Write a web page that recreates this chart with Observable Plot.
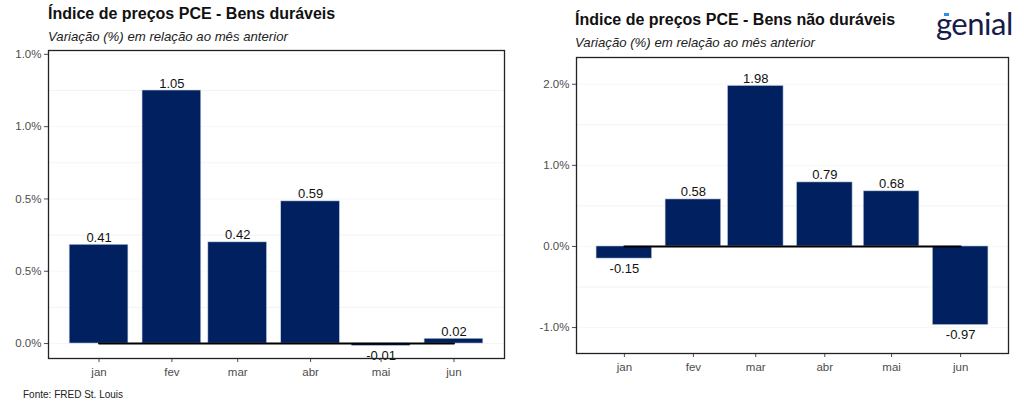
<!DOCTYPE html>
<html>
<head>
<meta charset="utf-8">
<script src="https://cdn.jsdelivr.net/npm/d3@7"></script>
<script src="https://cdn.jsdelivr.net/npm/@observablehq/plot@0.6"></script>
<style>
  body { margin: 0; background: #fff; font-family: "Liberation Sans", Arial, sans-serif; }
  #wrap { position: relative; width: 1024px; height: 410px; overflow: hidden; background: #fff; }
  .title { position: absolute; font-weight: bold; font-size: 16px; color: #111; white-space: nowrap; }
  .sub { position: absolute; font-style: italic; font-size: 13.2px; color: #222; white-space: nowrap; }
  .chart { position: absolute; top: 40px; }
  #logo { position: absolute; left: 936px; top: 4px; font-family: "Lato", sans-serif; font-size: 31px; color: #161b4a; letter-spacing: -0.5px; }
  #logo .acc { position: absolute; left: 8px; top: 9px; width: 5px; height: 3px; background: #2f8fe0; }
  #src { position: absolute; left: 23px; top: 389px; font-size: 10px; color: #222; }
</style>
</head>
<body>
<div id="wrap">
  <div class="title" style="left:48px; top:5px;">Índice de preços PCE - Bens duráveis</div>
  <div class="sub" style="left:48px; top:29px;">Variação (%) em relação ao mês anterior</div>
  <div class="title" style="left:575px; top:11px;">Índice de preços PCE - Bens não duráveis</div>
  <div class="sub" style="left:575px; top:35px;">Variação (%) em relação ao mês anterior</div>
  <div id="logo">genial<span class="acc"></span></div>
  <div id="left" class="chart" style="left:0px;"></div>
  <div id="right" class="chart" style="left:512px;"></div>
  <div id="src">Fonte: FRED St. Louis</div>
</div>
<script>
// ---- data ----
const months = ["2023-01-01", "2023-02-01", "2023-03-01", "2023-04-01", "2023-05-01", "2023-06-01"];
const monthLabels = ["jan", "fev", "mar", "abr", "mai", "jun"];
const duraveis = [0.41, 1.05, 0.42, 0.59, -0.01, 0.02];
const naoDuraveis = [-0.15, 0.58, 1.98, 0.79, 0.68, -0.97];
const leftTicks = [0, 0.3, 0.6, 0.9, 1.2];
const leftTickLabels = ["0.0%", "0.5%", "0.5%", "1.0%", "1.0%"];
const leftGrid = [0.15, 0.45, 0.75, 1.05];
const rightTicks = [-1, 0, 1, 2];
const rightTickLabels = ["-1.0%", "0.0%", "1.0%", "2.0%"];
const rightGrid = [-0.5, 0.5, 1.5];

const dates = months.map(s => new Date(s + "T00:00:00Z"));
const halfBar = 12.5 * 24 * 3600 * 1000;
const pad = 21.5 * 24 * 3600 * 1000;
const fmt = v => d3.format(".2f")(v).replace("\u2212", "-");
const monthFmt = d => monthLabels[dates.findIndex(x => +x === +d)];

function build(values, ticks, tickLabels, grid, yDomain, margins) {
  const rows = dates.map((d, i) => ({date: d, value: values[i], x1: new Date(+d - halfBar), x2: new Date(+d + halfBar)}));
  const labelFor = v => tickLabels[ticks.indexOf(v)];
  return Plot.plot({
    width: 512,
    height: 345,
    ...margins,
    style: {fontFamily: "Liberation Sans, Arial, sans-serif", fontSize: "11.5px", color: "#4d4d4d", background: "transparent"},
    x: {type: "utc", domain: [new Date(+dates[0] - pad), new Date(+dates[dates.length - 1] + pad)], ticks: dates, tickFormat: monthFmt, tickSize: 4, tickPadding: 5, label: null},
    y: {domain: yDomain, ticks: ticks, tickFormat: labelFor, tickSize: 4, tickPadding: 3, label: null},
    marks: [
      Plot.ruleY(grid, {stroke: "#f3f3f3", strokeWidth: 1}),
      Plot.ruleY(ticks, {stroke: "#f7f7f7", strokeWidth: 1}),
      Plot.rectY(rows, {x1: "x1", x2: "x2", y1: 0, y2: "value", fill: "#00205f", stroke: "#c9d3e6", strokeWidth: 0.6}),
      Plot.lineY(rows, {x: "date", y: () => 0, stroke: "#000", strokeWidth: 2}),
      Plot.text(rows.filter(r => r.value >= 0), {x: "date", y: "value", text: r => fmt(r.value), lineAnchor: "bottom", dy: -3, fontSize: 13, fill: "#111"}),
      Plot.text(rows.filter(r => r.value < 0), {x: "date", y: "value", text: r => fmt(r.value), lineAnchor: "top", dy: 5, fontSize: 13, fill: "#111"}),
      Plot.frame({stroke: "#222", strokeWidth: 1.3})
    ]
  });
}

document.getElementById("left").appendChild(
  build(duraveis, leftTicks, leftTickLabels, leftGrid, [-0.062, 1.216],
    {marginLeft: 48, marginRight: 8, marginTop: 10, marginBottom: 27}));
document.getElementById("right").appendChild(
  build(naoDuraveis, rightTicks, rightTickLabels, rightGrid, [-1.32, 2.33],
    {marginLeft: 64, marginRight: 16, marginTop: 17, marginBottom: 32}));
</script>
</body>
</html>
